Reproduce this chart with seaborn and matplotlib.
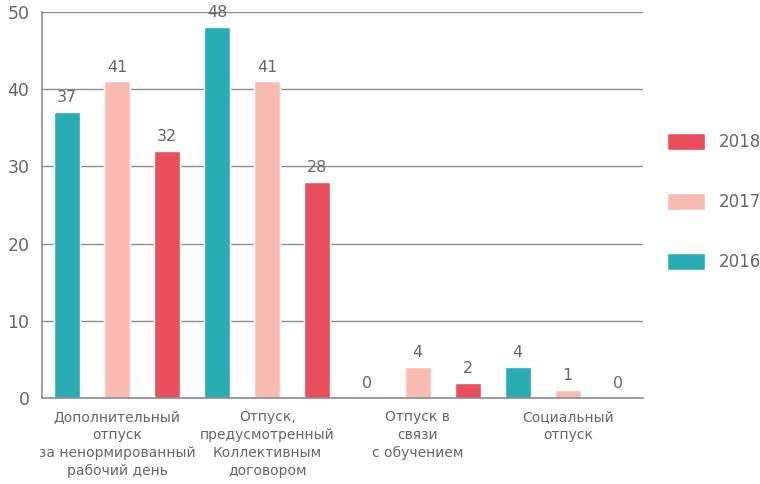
import pandas as pd
import numpy as np
import matplotlib
matplotlib.use('Agg')
import matplotlib.pyplot as plt
import seaborn as sns

# data
categories = ['Дополнительный\nотпуск\nза ненормированный\nрабочий день',
              'Отпуск,\nпредусмотренный\nКоллективным\nдоговором',
              'Отпуск в\nсвязи\nс обучением',
              'Социальный\nотпуск']
years = ['2016', '2017', '2018']
values_2016 = [37, 48, 0, 4]
values_2017 = [41, 41, 4, 1]
values_2018 = [32, 28, 2, 0]

colors = {'2016': '#29acb4', '2017': '#fabcb2', '2018': '#e94e5c'}
text_color = '#666666'
line_color = '#8c8c8c'

rows = []
for year, vals in zip(years, [values_2016, values_2017, values_2018]):
    for cat, v in zip(categories, vals):
        rows.append({'category': cat, 'year': year, 'value': v})
df = pd.DataFrame(rows)

sns.set_style('white')
plt.rcParams['font.family'] = ['DejaVu Sans']

fig = plt.figure(figsize=(7.6, 4.84), dpi=100)
ax = fig.add_axes([42 / 760, 1 - 398 / 484, 601 / 760, 386 / 484])

sns.barplot(data=df, x='category', y='value', hue='year', hue_order=years,
            order=categories, palette=colors, width=1.0, gap=0.48,
            saturation=1, ax=ax, legend=True)

for cont in ax.containers:
    ax.bar_label(cont, fmt='%d', padding=5, fontsize=11.5, color=text_color)

ax.set_xlim(-0.5, len(categories) - 0.5)
ax.set_ylim(0, 50)
ax.set_yticks([0, 10, 20, 30, 40, 50])
ax.set_xlabel('')
ax.set_ylabel('')
ax.yaxis.grid(True, color=line_color, linewidth=1)
ax.set_axisbelow(True)

for s in ['top', 'right']:
    ax.spines[s].set_visible(False)
for s in ['left', 'bottom']:
    ax.spines[s].set_color(line_color)
    ax.spines[s].set_linewidth(1.2)

ax.tick_params(axis='y', length=0, labelsize=12.5, labelcolor=text_color, pad=9)
ax.tick_params(axis='x', which='major', length=0, labelsize=10, labelcolor=text_color, pad=9)
ax.set_xticks(np.arange(len(categories)) + 0.5, minor=True)
ax.tick_params(axis='x', which='minor', direction='in', length=9, color='#b0b0b0', width=1)
for lab in ax.get_xticklabels():
    lab.set_linespacing(1.35)

handles, labels = ax.get_legend_handles_labels()
ax.legend(handles[::-1], labels[::-1], loc='upper left',
          bbox_to_anchor=(667 / 760, 1 - 133 / 484), bbox_transform=fig.transFigure,
          frameon=False, fontsize=12, handlelength=2.3, handleheight=1.2,
          labelspacing=2.5, handletextpad=0.8, borderpad=0, borderaxespad=0,
          labelcolor=text_color)

fig.savefig('out.png', dpi=100)
